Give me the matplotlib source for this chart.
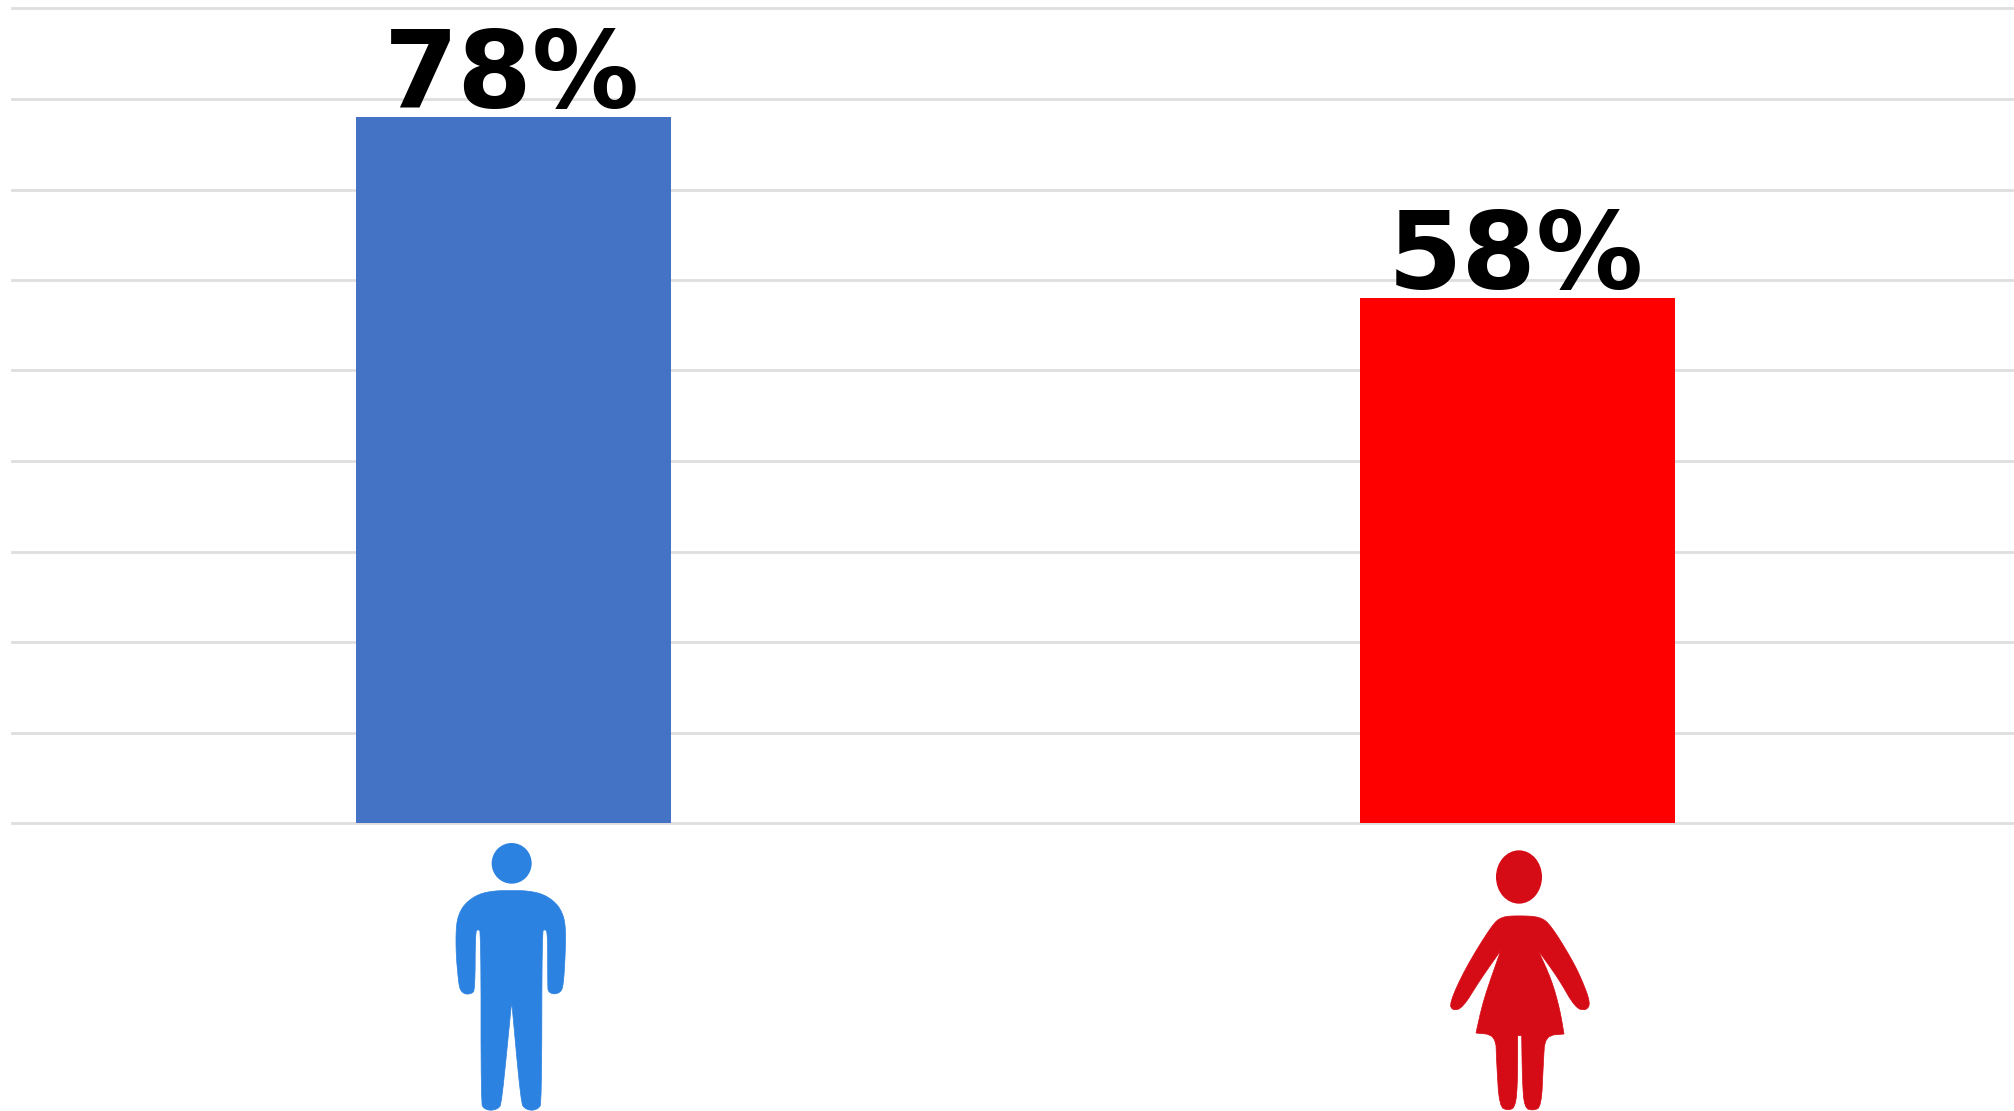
import matplotlib
matplotlib.use('Agg')
import matplotlib.pyplot as plt
from matplotlib.patches import Polygon, Ellipse
from matplotlib.transforms import Affine2D

W, H = 2015, 1111

groups = ['Men', 'Women']
values = [78, 58]
labels = ['78%', '58%']
bar_colors = ['#4472C4', '#FF0000']
grid_values = list(range(0, 100, 10))

# icon outlines (pixels inside each crop, 3x)
man_body = [(275, 212), (320, 212), (370, 222), (410, 250), (430, 285), (437, 325), (436, 400),
            (430, 500), (420, 518), (400, 523), (385, 515), (383, 500), (383, 335), (374, 328),
            (366, 335), (365, 850), (355, 866), (335, 872), (315, 866), (303, 850), (275, 545),
            (245, 850), (235, 866), (212, 872), (192, 866), (183, 850), (183, 335), (174, 328),
            (166, 335), (165, 510), (155, 521), (135, 523), (120, 510), (115, 480), (108, 400),
            (108, 325), (115, 285), (135, 250), (175, 222), (225, 212)]
woman_body = [(265, 257), (330, 260), (362, 285), (424, 385), (456, 450), (482, 520), (468, 542),
              (436, 534), (385, 445), (325, 362), (365, 450), (390, 540), (402, 612), (345, 617),
              (340, 700), (334, 830), (310, 842), (283, 834), (277, 750), (275, 617), (263, 617),
              (263, 750), (257, 830), (235, 842), (208, 830), (200, 700), (197, 615), (138, 609),
              (160, 510), (212, 362), (150, 450), (98, 534), (68, 542), (58, 520), (106, 415),
              (186, 285), (215, 260)]
man_sharp = [(275, 545)]
woman_sharp = [(325, 362), (212, 362), (275, 617), (263, 617), (402, 612), (138, 609)]


def smooth(pts, keep, rounds=2):
    # corner cutting, points in keep stay as they are
    for _ in range(rounds):
        out = []
        n = len(pts)
        for i in range(n):
            p = pts[i]
            a = pts[i - 1]
            b = pts[(i + 1) % n]
            if p in keep:
                out.append(p)
                continue
            out.append((p[0] * 0.75 + a[0] * 0.25, p[1] * 0.75 + a[1] * 0.25))
            out.append((p[0] * 0.75 + b[0] * 0.25, p[1] * 0.75 + b[1] * 0.25))
        pts = out
    return pts


fig = plt.figure(figsize=(W / 100, H / 100), dpi=100)
ax = fig.add_axes([11.5 / W, 1 - 823 / H, 2008 / W, 814.5 / H])

ax.bar(range(len(values)), values, width=0.314, color=bar_colors, zorder=2)
ax.set_xlim(-0.5, 1.5)
ax.set_ylim(0, 90)
ax.set_yticks(grid_values)
ax.grid(axis='y', color='#DEDEDE', linewidth=2, zorder=1)
for ln in ax.get_ygridlines():
    ln.set_clip_on(False)
ax.tick_params(left=False, bottom=False, labelleft=False, labelbottom=False)
for s in ax.spines.values():
    s.set_visible(False)

for i, v in enumerate(values):
    ax.annotate(labels[i], (i, v), xytext=(-1.5, 7), textcoords='offset points',
                ha='center', va='baseline', fontsize=77, fontweight='bold',
                family='DejaVu Sans', color='black', zorder=3)


# icons sit under the axis, placed in image pixels
def icon_tf(x0, y0):
    return Affine2D().scale(1 / 3, 1 / 3).translate(x0, y0).scale(1, -1).translate(0, H)


man = '#2C82E0'
woman = '#D50B16'
t = icon_tf(420, 820)
fig.add_artist(Ellipse((275, 130), 120, 122, color=man, lw=0, transform=t))
fig.add_artist(Polygon(smooth(man_body, man_sharp), closed=True, color=man, lw=0.5, transform=t))
t = icon_tf(1430, 830)
fig.add_artist(Ellipse((267, 141), 138, 160, color=woman, lw=0, transform=t))
fig.add_artist(Polygon(smooth(woman_body, woman_sharp), closed=True, color=woman, lw=0.5, transform=t))

fig.savefig('out.png', dpi=100)
